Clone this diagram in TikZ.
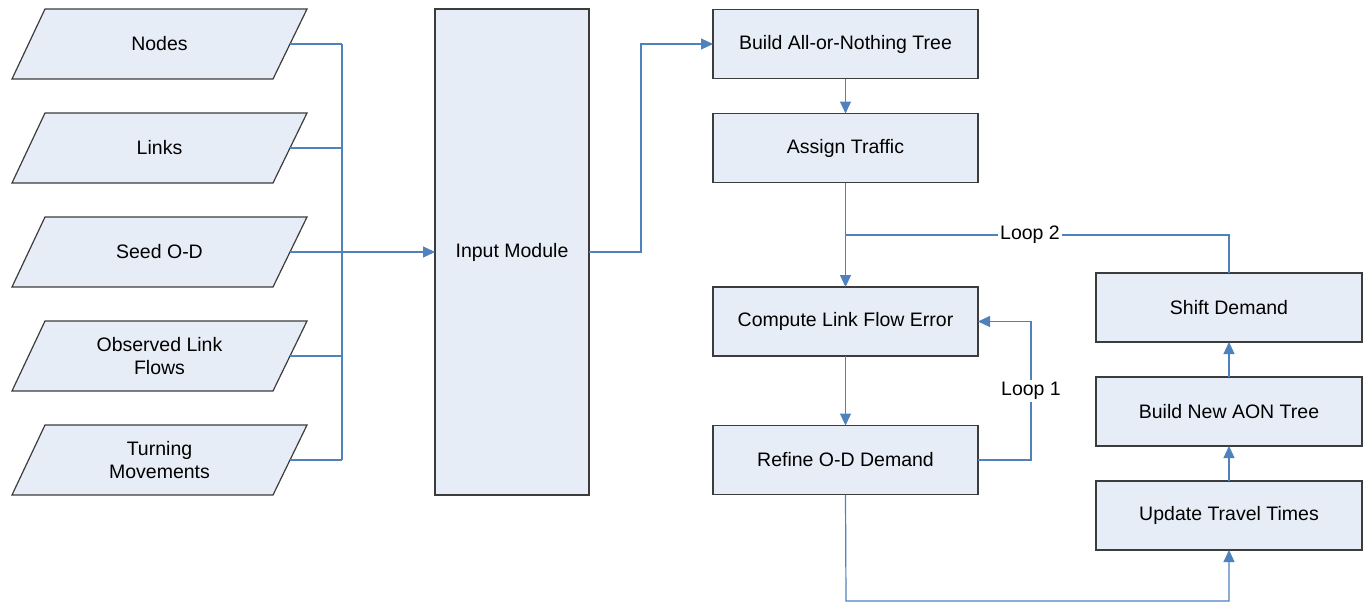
\documentclass[tikz,border=0pt]{standalone}
\usepackage{fontspec}
\setmainfont{Liberation Sans}
\usetikzlibrary{arrows.meta,calc}
\definecolor{boxfill}{HTML}{E7EDF7}
\definecolor{boxline}{HTML}{3C3C3C}
\definecolor{conn}{HTML}{4F81BD}
\newcommand\inbox[4]{%
  \coordinate (#1-c) at (#2,#3);
  \draw[draw=boxline, fill=boxfill, line width=1.2pt]
    ($(#1-c)+(-147.5,35)$) -- ($(#1-c)+(-114.5,-35)$) --
    ($(#1-c)+(147.5,-35)$) -- ($(#1-c)+(113.5,35)$) -- cycle;
  \node[align=center] (#1) at (#1-c) {#4};
  \coordinate (#1-r) at ($(#1-c)+(130.5,0)$);
}
\begin{document}
\begin{tikzpicture}[x=1pt,y=-1pt,
  every node/.style={font=\fontsize{19.5}{23}\selectfont, inner sep=0pt, outer sep=0pt},
  procbox/.style={draw=boxline, fill=boxfill, line width=1.2pt, rectangle,
    minimum width=265pt, minimum height=69pt, align=center},
  link/.style={draw=conn, line width=1.2pt},
  arr/.style={link, -{Triangle[length=12pt,width=11pt]}},
  looplabel/.style={fill=white, inner sep=2pt}]
\useasboundingbox (0,0) rectangle (1363,603);
% inputs
\inbox{nodes}{159.5}{44}{Nodes}
\inbox{links}{159.5}{148}{Links}
\inbox{seed}{159.5}{252}{Seed O-D}
\inbox{obs}{159.5}{356}{Observed Link\\Flows}
\inbox{turn}{159.5}{460}{Turning\\Movements}
% input module
\node[draw=boxline, fill=boxfill, line width=1.2pt, minimum width=154pt, minimum height=486pt] (input) at (512,252) {Input Module};
% process boxes
\node[procbox] (aon) at (845.5,44) {Build All-or-Nothing Tree};
\node[procbox] (assign) at (845.5,148) {Assign Traffic};
\node[procbox] (compute) at (845.5,321.5) {Compute Link Flow Error};
\node[procbox] (refine) at (845.5,460) {Refine O-D Demand};
\node[procbox, minimum width=266pt] (shift) at (1229,307.5) {Shift Demand};
\node[procbox, minimum width=266pt] (newaon) at (1229,411.5) {Build New AON Tree};
\node[procbox, minimum width=266pt] (update) at (1229,515.5) {Update Travel Times};
% helper coordinates
\coordinate (busx) at (342,0);
\coordinate (jx) at (641,0);
\coordinate (l2) at (846,235);
\coordinate (l1x) at (1031,0);
\coordinate (bot) at (846,601);
% input bus
\draw[link] (nodes-r) -- (nodes-r -| busx);
\draw[link] (links-r) -- (links-r -| busx);
\draw[link] (obs-r) -- (obs-r -| busx);
\draw[link] (turn-r) -- (turn-r -| busx);
\draw[link] (nodes-r -| busx) -- (turn-r -| busx);
\draw[arr] (seed-r) -- (input.west);
% input to AON
\draw[arr] (input.east) -- (input.east -| jx) |- (aon.west);
\draw[arr] (aon.south) -- (assign.north);
\draw[arr] (assign.south) -- (compute.north);
\draw[arr] (compute.south) -- (refine.north);
% loop 1
\draw[arr] (refine.east) -- (refine.east -| l1x) |- (compute.east);
\node[looplabel] (loop1) at (1031,391) {Loop 1};
% bottom
\draw[arr] (refine.south) -- (bot) -| (update.south);
\draw[arr] (update.north) -- (newaon.south);
\draw[arr] (newaon.north) -- (shift.south);
% loop 2
\draw[link] (shift.north) |- (l2);
\node[looplabel] (loop2) at (1030,235) {Loop 2};
\end{tikzpicture}
\end{document}
